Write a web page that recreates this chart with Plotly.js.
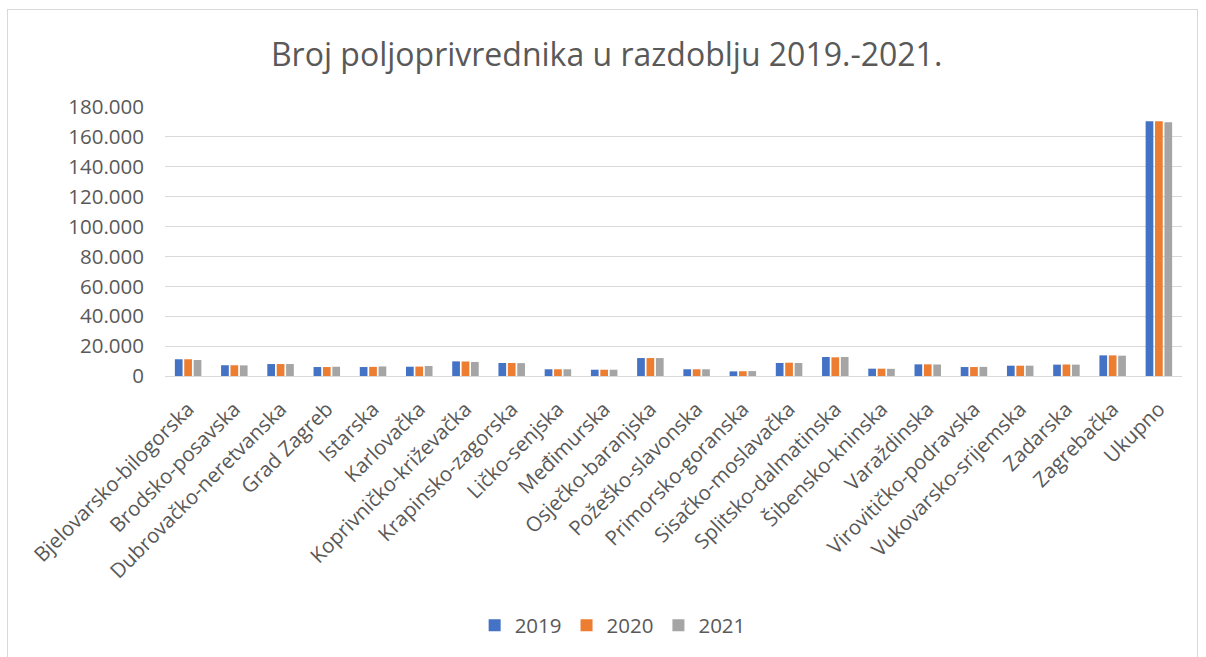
<!DOCTYPE html>
<html>
<head>
<meta charset="utf-8">
<script src="https://cdn.plot.ly/plotly-3.0.1.min.js"></script>
<style>
  html, body { margin: 0; padding: 0; background: #fff; }
  #frame { position: absolute; left: 7px; top: 9px; width: 1191px; height: 660px; border: 1px solid #d9d9d9; box-sizing: border-box; }
  #chart { position: absolute; left: 0; top: 0; width: 1206px; height: 657px; }
</style>
</head>
<body>
<div id="frame"></div>
<div id="chart"></div>
<script>
const categories = ["Bjelovarsko-bilogorska","Brodsko-posavska","Dubrovačko-neretvanska","Grad Zagreb","Istarska","Karlovačka","Koprivničko-križevačka","Krapinsko-zagorska","Ličko-senjska","Međimurska","Osječko-baranjska","Požeško-slavonska","Primorsko-goranska","Sisačko-moslavačka","Splitsko-dalmatinska","Šibensko-kninska","Varaždinska","Virovitičko-podravska","Vukovarsko-srijemska","Zadarska","Zagrebačka","Ukupno"];
const seriesNames = ["2019","2020","2021"];
const values2019 = [11200,7200,8000,6000,6000,6200,9800,8700,4500,4200,12000,4500,3100,8700,12700,4900,7800,6000,6900,7600,13800,170500];
const values2020 = [11200,7200,8000,6000,6100,6300,9700,8700,4500,4200,12000,4500,3200,8900,12500,4900,7800,6000,6900,7700,13800,170400];
const values2021 = [10700,7100,8000,6200,6400,6700,9400,8600,4500,4200,12000,4500,3300,8700,12700,4800,7700,6100,6900,7600,13600,169800];
const colors = ["#4472C4","#ED7D31","#A5A5A5"];
const allValues = [values2019, values2020, values2021];

const traces = seriesNames.map((name, i) => ({
  type: "bar",
  name: name,
  x: categories,
  y: allValues[i],
  marker: { color: colors[i] },
  hoverinfo: "x+y+name"
}));

const layout = {
  width: 1206,
  height: 657,
  paper_bgcolor: "rgba(0,0,0,0)",
  plot_bgcolor: "rgba(0,0,0,0)",
  separators: ",.",
  font: { family: "Open Sans, Liberation Sans, sans-serif", color: "#595959", size: 16 },
  title: {
    text: "Broj poljoprivrednika u razdoblju 2019.-2021.",
    font: { family: "Open Sans, sans-serif", size: 32, color: "#595959" },
    x: 0.503, xref: "container", xanchor: "center",
    y: 0.916, yref: "container", yanchor: "middle"
  },
  margin: { l: 165, r: 24, t: 107, b: 281 },
  barmode: "group",
  bargap: 0.39,
  bargroupgap: 0.18,
  xaxis: {
    type: "category",
    tickangle: -45,
    tickfont: { size: 20.5, color: "#595959" },
    showgrid: false,
    showline: true,
    linecolor: "#d9d9d9",
    linewidth: 1,
    ticks: "",
    ticklabelstandoff: 12,
    automargin: false
  },
  yaxis: {
    range: [0, 180000],
    tick0: 0,
    dtick: 20000,
    tickformat: ",d",
    tickfont: { size: 20.5, color: "#595959" },
    showgrid: true,
    gridcolor: "#d9d9d9",
    gridwidth: 1,
    zeroline: false,
    showline: false,
    ticks: "",
    ticklabelstandoff: 20,
    automargin: false
  },
  legend: {
    orientation: "h",
    x: 0.508, xref: "container", xanchor: "center",
    y: 0.048, yref: "container", yanchor: "middle",
    font: { size: 20.5, color: "#595959" },
    traceorder: "normal",
    itemwidth: 30
  },
  showlegend: true
};

Plotly.newPlot("chart", traces, layout, { displayModeBar: false, staticPlot: true });
</script>
</body>
</html>
